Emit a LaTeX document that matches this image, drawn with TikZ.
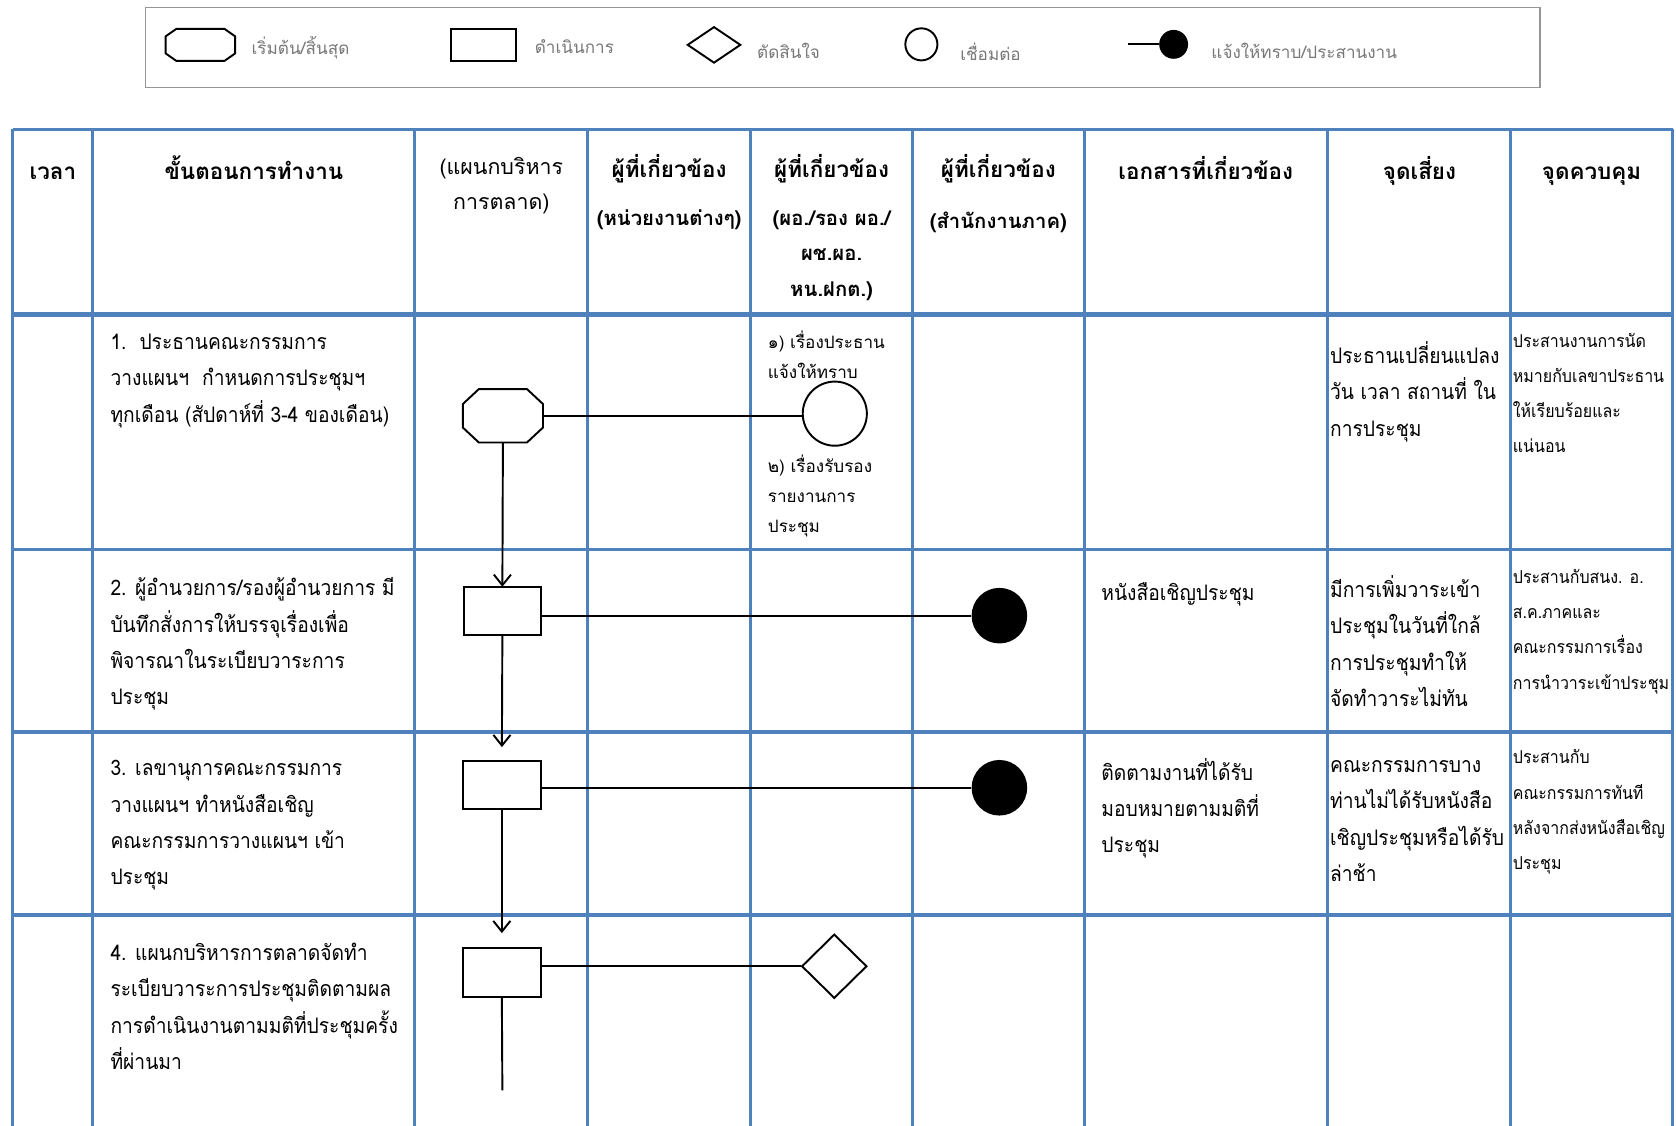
\documentclass[tikz,border=0pt]{standalone}
\usepackage{fontspec}
\newfontfamily\thai[Script=Thai]{Loma}
\newfontfamily\thaic[Script=Thai,FakeStretch=0.9]{Loma}
\usetikzlibrary{arrows.meta,shapes.geometric,calc}
\definecolor{tblue}{RGB}{79,129,189}
\definecolor{lgray}{RGB}{120,120,120}
\definecolor{bgray}{RGB}{150,150,150}
\newcommand\octpath[3]{%
  \draw[flow] ([xshift=#2]#1.north west) -- ([xshift=-#2]#1.north east)
    -- ([yshift=-#3]#1.north east) -- ([yshift=#3]#1.south east)
    -- ([xshift=-#2]#1.south east) -- ([xshift=#2]#1.south west)
    -- ([yshift=#3]#1.south west) -- ([yshift=-#3]#1.north west) -- cycle;}
\begin{document}
\begin{tikzpicture}[x=0.5pt,y=-0.5pt,
  gridv/.style={draw=tblue,line width=1.4pt},
  gridh/.style={draw=tblue,line width=1.7pt},
  flow/.style={draw=black,line width=0.9pt},
  arr/.style={flow,-{Straight Barb[length=5pt,width=8pt,line width=0.9pt]}},
  box/.style={draw=none,inner sep=0pt,outer sep=0pt},
  procbox/.style={draw=black,line width=0.9pt,inner sep=0pt,outer sep=0pt},
  hd/.style={font=\thai\bfseries\fontsize{10.5}{16.5}\selectfont,inner sep=0pt,align=center,anchor=north,execute at begin node=\strut},
  hdm/.style={font=\thai\fontsize{10}{16.5}\selectfont,inner sep=0pt,align=center,anchor=north,execute at begin node=\strut},
  body/.style={font=\thaic\fontsize{10}{17}\selectfont,inner sep=0pt,align=left,anchor=north west,execute at begin node=\strut},
  small/.style={font=\thai\fontsize{8}{14}\selectfont,inner sep=0pt,align=left,anchor=north west,execute at begin node=\strut},
  ctrl/.style={font=\thaic\fontsize{8.3}{16.5}\selectfont,inner sep=0pt,align=left,anchor=north west,execute at begin node=\strut},
  leg/.style={font=\thai\fontsize{8}{10}\selectfont,text=lgray,inner sep=0pt,anchor=west},
]
\useasboundingbox (0,0) rectangle (1568,1053);
\fill[white] (0,0) rectangle (1568,1053);

% ---------- legend ----------
\draw[draw=bgray,line width=0.8pt] (136,7) rectangle (1441,82);
\node[box,minimum width=32.5pt,minimum height=15pt] (lo) at (187.5,42) {};
\octpath{lo}{5pt}{3.5pt}
\node[leg] (lot) at (235,45) {เริ่มต้น/สิ้นสุด};
\node[procbox,minimum width=30.5pt,minimum height=15pt] (lr) at (452.5,42) {};
\node[leg] (lrt) at (500,44) {ดำเนินการ};
\node[diamond,draw=black,line width=0.9pt,inner sep=0pt,minimum width=25pt,minimum height=17pt] (ld) at (668,42) {};
\node[leg] (ldt) at (708,48) {ตัดสินใจ};
\node[circle,draw=black,line width=0.9pt,inner sep=0pt,minimum size=15pt] (lc) at (862,41.5) {};
\node[leg] (lct) at (898,48) {เชื่อมต่อ};
\coordinate (ll) at (1055,41.5);
\node[circle,fill=black,inner sep=0pt,minimum size=13.5pt] (ldot) at (1098,41.5) {};
\draw[flow] (ll) -- (ldot);
\node[leg] (ldott) at (1133,48) {แจ้งให้ทราบ/ประสานงาน};

% ---------- table grid ----------
\foreach \x in {12,87,388,550,702,854,1015,1242,1413,1565}
  \draw[gridv] (\x,121) -- (\x,1060);
\foreach \y in {121,514,685,856}
  \draw[gridh] (12,\y) -- (1565,\y);
\draw[draw=tblue,line width=2.2pt] (12,294) -- (1565,294);

% ---------- header ----------
\node[hd] (h1) at (49.5,144) {เวลา};
\node[hd] (h2) at (237.5,144) {ขั้นตอนการทำงาน};
\node[hdm] (h3) at (469,147) {(แผนกบริหาร\\การตลาด)};
\node[hd] (h4) at (626,144) {ผู้ที่เกี่ยวข้อง\\[6pt]{\fontsize{9.5}{16.5}\selectfont(หน่วยงานต่างๆ)}};
\node[hd] (h5) at (778,144) {ผู้ที่เกี่ยวข้อง\\[6pt]{\fontsize{9.5}{16.5}\selectfont(ผอ./รอง ผอ./}\\{\fontsize{9.5}{16.5}\selectfont ผช.ผอ.}\\{\fontsize{9.5}{16.5}\selectfont หน.ฝกต.)}};
\node[hd] (h6) at (934,144) {ผู้ที่เกี่ยวข้อง\\[7.5pt]{\fontsize{9.5}{16.5}\selectfont(สำนักงานภาค)}};
\node[hd] (h7) at (1128,144) {เอกสารที่เกี่ยวข้อง};
\node[hd] (h8) at (1328,144) {จุดเสี่ยง};
\node[hd] (h9) at (1489,144) {จุดควบคุม};

% ---------- step texts ----------
\node[body] (t1) at (103,312) {1.\ \ ประธานคณะกรรมการ\\วางแผนฯ\ \ กำหนดการประชุมฯ\\ทุกเดือน (สัปดาห์ที่ 3-4 ของเดือน)};
\node[body] (t2) at (103,540) {2. ผู้อำนวยการ/รองผู้อำนวยการ มี\\บันทึกสั่งการให้บรรจุเรื่องเพื่อ\\พิจารณาในระเบียบวาระการ\\ประชุม};
\node[body] (t3) at (103,711) {3. เลขานุการคณะกรรมการ\\วางแผนฯ ทำหนังสือเชิญ\\คณะกรรมการวางแผนฯ เข้า\\ประชุม};
\node[body] (t4) at (103,882) {4. แผนกบริหารการตลาดจัดทำ\\ระเบียบวาระการประชุมติดตามผล\\การดำเนินงานตามมติที่ประชุมครั้ง\\ที่ผ่านมา};

% ---------- column 5 notes ----------
\node[small] (n1) at (718,309) {๑) เรื่องประธาน\\แจ้งให้ทราบ};
\node[small] (n2) at (718,425) {๒) เรื่องรับรอง\\รายงานการ\\ประชุม};

% ---------- documents ----------
\node[body] (dc2) at (1030,538) {หนังสือเชิญประชุม};
\node[body] (dc3) at (1030,709) {ติดตามงานที่ได้รับ\\มอบหมายตามมติที่\\ประชุม};

% ---------- risks ----------
\node[body] (rk1) at (1244,319) {ประธานเปลี่ยนแปลง\\วัน เวลา สถานที่ ใน\\การประชุม};
\node[body] (rk2) at (1244,538) {มีการเพิ่มวาระเข้า\\ประชุมในวันที่ใกล้\\การประชุมทำให้\\จัดทำวาระไม่ทัน};
\node[body] (rk3) at (1244,711) {คณะกรรมการบาง\\ท่านไม่ได้รับหนังสือ\\เชิญประชุมหรือได้รับ\\ล่าช้า};

% ---------- controls ----------
\node[ctrl] (ct1) at (1415,311) {ประสานงานการนัด\\หมายกับเลขาประธาน\\ให้เรียบร้อยและ\\แน่นอน};
\node[ctrl] (ct2) at (1415,532) {ประสานกับสนง. อ.\\ส.ค.ภาคและ\\คณะกรรมการเรื่อง\\การนำวาระเข้าประชุม};
\node[ctrl] (ct3) at (1415,701) {ประสานกับ\\คณะกรรมการทันที\\หลังจากส่งหนังสือเชิญ\\ประชุม};

% ---------- flow ----------
\node[box,minimum width=37.5pt,minimum height=25pt] (s1) at (470.5,389) {};
\octpath{s1}{7.5pt}{7pt}
\node[circle,draw=black,line width=0.9pt,inner sep=0pt,minimum size=30pt] (c1) at (781,387) {};
\node[procbox,minimum width=36pt,minimum height=22.5pt] (r2) at (470,571.5) {};
\node[circle,fill=black,inner sep=0pt,minimum size=26pt] (d2) at (935,576) {};
\node[procbox,minimum width=36.5pt,minimum height=22.5pt] (r3) at (469.5,734.5) {};
\node[circle,fill=black,inner sep=0pt,minimum size=26pt] (d3) at (935,737) {};
\node[procbox,minimum width=36.5pt,minimum height=23pt] (r4) at (469.5,910) {};
\node[diamond,draw=black,line width=0.9pt,inner sep=0pt,minimum width=30.5pt,minimum height=30pt] (dm4) at (780.5,904) {};
\coordinate (e4) at (470,1020);

\draw[flow] (s1.east) -- (s1.east -| c1.west);
\draw[flow] (r2.east |- d2) -- (d2);
\draw[flow] (r3.east |- d3) -- (d3);
\draw[flow] (r4.east |- dm4) -- (dm4);
\draw[arr] (s1.south) -- (r2.north);
\draw[arr,shorten >=6.5pt] (r2.south) -- (r3.north);
\draw[arr,shorten >=7pt] (r3.south) -- (r4.north);
\draw[flow] (r4.south) -- (e4);
\end{tikzpicture}
\end{document}
